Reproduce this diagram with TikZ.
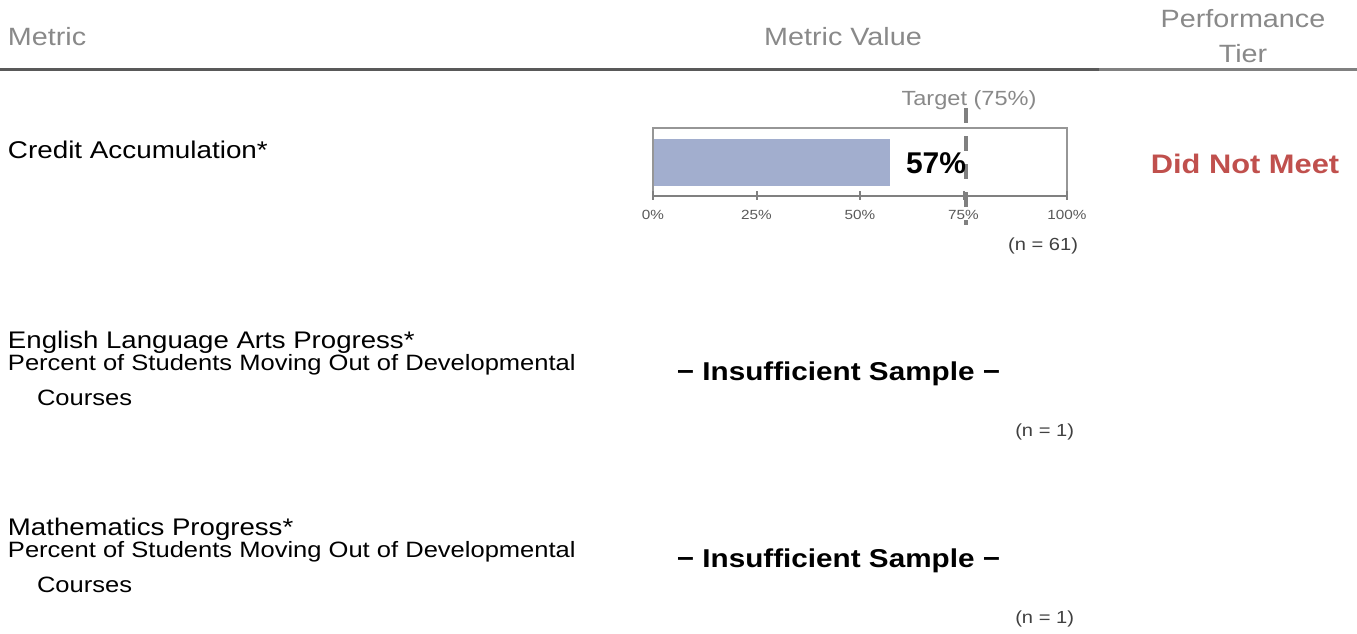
\documentclass[tikz,border=0pt]{standalone}
\usepackage{fontspec}
\setmainfont{Liberation Sans}[FakeStretch=1.15]
\newfontfamily\plainsans{Liberation Sans}
\definecolor{hdrgray}{RGB}{137,137,137}
\definecolor{linedark}{RGB}{89,89,89}
\definecolor{linelight}{RGB}{128,128,128}
\definecolor{barblue}{RGB}{162,174,206}
\definecolor{tierred}{RGB}{192,80,77}
\definecolor{boxgray}{RGB}{150,150,150}
\definecolor{axisgray}{RGB}{128,128,128}
\definecolor{ticklbl}{RGB}{89,89,89}
\definecolor{ncol}{RGB}{64,64,64}
\begin{document}
\begin{tikzpicture}[x=1pt,y=-1pt,
  txt/.style={inner sep=0pt, outer sep=0pt},
  hdr/.style={txt, text=hdrgray, font=\fontsize{25}{30}\selectfont},
  ttl/.style={txt, font=\fontsize{24}{29}\selectfont, anchor=base west},
  sub/.style={txt, font=\fontsize{22.2}{26}\selectfont, anchor=base west},
  insuf/.style={txt, font=\bfseries\fontsize{25.8}{30}\selectfont, anchor=base},
  nlbl/.style={txt, text=ncol, font=\fontsize{17.5}{21}\selectfont, anchor=base east},
  ticklabel/.style={txt, text=ticklbl, font=\fontsize{13.3}{16}\selectfont, anchor=base},
]
\useasboundingbox (0,0) rectangle (1357,634);

% header
\node[hdr, anchor=base west] (hMetric) at (8,45.5) {Metric};
\node[hdr, anchor=base] (hValue) at (843,45.5) {Metric Value};
\node[hdr, anchor=base] (hPerf) at (1243,28) {Performance};
\node[hdr, anchor=base] (hTier) at (1243,63) {Tier};
\draw[linedark, line width=3pt] (0,70) -- (1099,70);
\draw[linelight, line width=3pt] (1099,70) -- (1357,70);

% row 1
\node[ttl, font=\fontsize{24.2}{29}\selectfont] (cTitle) at (8,158) {Credit Accumulation*};
\fill[barblue] (653,139) rectangle (890,186);
\draw[boxgray, line width=1.5pt] (653,196) -- (653,128) -- (1067,128) -- (1067,196);
\draw[axisgray, line width=2.5pt] (653,196) -- (1067,196);
\foreach \i/\l in {0/0,1/25,2/50,3/75,4/100}{
  \draw[axisgray, line width=2pt] ({653+103.5*\i},191) -- ({653+103.5*\i},200);
  \node[ticklabel] (t\i) at ({653+103.5*\i},219.5) {\l\%};
}
\draw[axisgray, line width=4pt, dash pattern=on 15pt off 13pt] (965.5,108) -- (965.5,225);
\node[txt, font=\plainsans\bfseries\fontsize{30}{36}\selectfont, anchor=base west] (val) at (906,173.3) {57\%};
\node[txt, text=hdrgray, font=\fontsize{20.5}{24}\selectfont, anchor=base] (target) at (969,105) {Target (75\%)};
\node[txt, text=tierred, font=\bfseries\fontsize{26.8}{32}\selectfont, anchor=base] (tier) at (1245,173.3) {Did Not Meet};
\node[nlbl] (n1) at (1078,250) {(n = 61)};

% row 2
\node[ttl] (eTitle) at (8,348.3) {English Language Arts Progress*};
\node[sub] (eSub) at (8,370.7) {Percent of Students Moving Out of Developmental};
\node[sub] (eSub2) at (37,405) {Courses};
\node[insuf] (eVal) at (838.5,380) {− Insufficient Sample −};
\node[nlbl] (n2) at (1074,436) {(n = 1)};

% row 3
\node[ttl] (mTitle) at (8,535.3) {Mathematics Progress*};
\node[sub] (mSub) at (8,557.7) {Percent of Students Moving Out of Developmental};
\node[sub] (mSub2) at (37,592) {Courses};
\node[insuf] (mVal) at (838.5,567) {− Insufficient Sample −};
\node[nlbl] (n3) at (1074,623) {(n = 1)};
\end{tikzpicture}
\end{document}
